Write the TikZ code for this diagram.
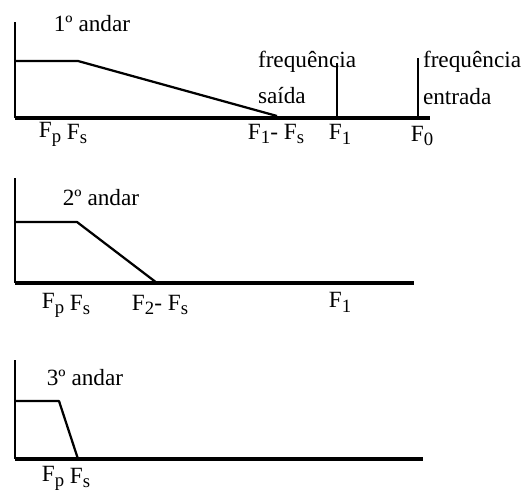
\documentclass[tikz,border=0pt]{standalone}
\usepackage{fontspec}
\setmainfont{Liberation Serif}
\newcommand\lowsub[1]{\raisebox{-0.45ex}{\fontsize{7.5}{8}\selectfont #1}}
\begin{document}
\begin{tikzpicture}[x=0.4pt,y=-0.4pt]
\useasboundingbox (0,0) rectangle (530,494);
\tikzset{axis/.style={line width=0.8pt},
  base/.style={line width=1.3pt},
  resp/.style={line width=0.9pt,line join=round},
  every node/.style={font=\fontsize{9.3}{11}\selectfont,inner sep=1pt}}

% 1o andar
\draw[axis] (15,22) -- (15,118);
\draw[base] (15,118) -- (430,118);
\draw[resp] (15,61) -- (78,61) -- (277,116);
\draw[axis] (337,63) -- (337,118);
\draw[axis] (418,58) -- (418,118);
\node (t1) at (92,24) {1º andar};
\node[anchor=west] (fs1) at (255,62) {frequência};
\node[anchor=west] (sd1) at (255,96) {saída};
\node[anchor=west] (fe1) at (420,62) {frequência};
\node[anchor=west] (en1) at (420,97) {entrada};
\node (fp1) at (50,134) {F\lowsub{p}};
\node (fsa) at (77,134) {F\lowsub{s}};
\node (fd1) at (276,134) {F\lowsub{1}- F\lowsub{s}};
\node (f1a) at (340,134) {F\lowsub{1}};
\node (f0a) at (422,136) {F\lowsub{0}};

% 2o andar
\draw[axis] (15,178) -- (15,283);
\draw[base] (15,283) -- (414,283);
\draw[resp] (15,222) -- (77,222) -- (157,283);
\node (t2) at (101,198) {2º andar};
\node (fp2) at (53,305) {F\lowsub{p}};
\node (fsb) at (80,305) {F\lowsub{s}};
\node (fd2) at (160,305) {F\lowsub{2}- F\lowsub{s}};
\node (f1b) at (340,302) {F\lowsub{1}};

% 3o andar
\draw[axis] (15,360) -- (15,459);
\draw[base] (15,459) -- (423,459);
\draw[resp] (15,401) -- (59,401) -- (78,459);
\node (t3) at (85,378) {3º andar};
\node (fp3) at (53,478) {F\lowsub{p}};
\node (fsc) at (80,478) {F\lowsub{s}};
\end{tikzpicture}
\end{document}
